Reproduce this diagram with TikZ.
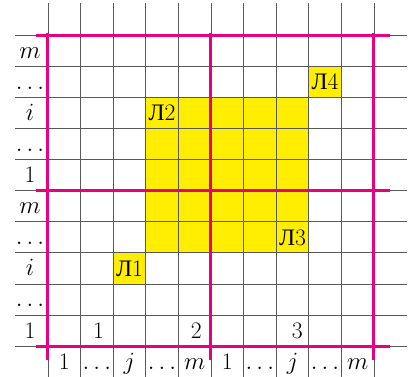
\documentclass[tikz,border=0pt]{standalone}
\usepackage{fontspec}
\newfontfamily\cyrfont{Liberation Serif}
\definecolor{razd}{RGB}{232,0,128}
\definecolor{zhelt}{RGB}{255,238,0}
\begin{document}
\begin{tikzpicture}[x=0.8cm, y=0.763cm,
    setka/.style={black!65, line width=0.5pt},
    granica/.style={razd, line width=2.1pt},
    metka/.style={anchor=base, inner sep=0pt, font=\fontsize{16.5}{20}\selectfont},
    kletka/.style={metka}]
    \useasboundingbox (-1.47,-0.965) rectangle (11.32,11.13);

    % Yellow cells
    \fill[zhelt] (3,3) rectangle (8,8);
    \fill[zhelt] (2,2) rectangle (3,3);
    \fill[zhelt] (8,8) rectangle (9,9);

    % Grid
    \foreach \y in {0,...,10}
        \draw[setka] (-1,\y) -- (11,\y);
    \foreach \x in {0,...,10}
        \draw[setka] (\x,-1) -- (\x,11.03);

    % Block borders
    \foreach \y in {0,5,10}
        \draw[granica] (-0.38,\y) -- (10.5,\y);
    \foreach \x in {0,5,10}
        \draw[granica] (\x,10.07) -- (\x,-0.45);

    % Row labels
    \foreach \lbl [count=\k] in {$m$,$\ldots$,$i$,$\ldots$,1,$m$,$\ldots$,$i$,$\ldots$,1}
        \node[metka] (lev\k) at (-0.55,10-\k+0.26) {\lbl};

    % Column labels
    \foreach \lbl [count=\k] in {1,$\ldots$,$j$,$\ldots$,$m$,1,$\ldots$,$j$,$\ldots$,$m$}
        \node[metka] (niz\k) at (\k-0.5,-0.74) {\lbl};

    % Block numbers
    \node[metka] (blok1) at (1.55,0.26) {1};
    \node[metka] (blok2) at (4.55,0.26) {2};
    \node[metka] (blok3) at (7.65,0.26) {3};

    % Cells
    \node[kletka] (l1) at (2.5,2.24) {{\cyrfont Л}1};
    \node[kletka] (l2) at (3.5,7.24) {{\cyrfont Л}2};
    \node[kletka] (l3) at (7.5,3.24) {{\cyrfont Л}3};
    \node[kletka] (l4) at (8.5,8.24) {{\cyrfont Л}4};
\end{tikzpicture}
\end{document}
